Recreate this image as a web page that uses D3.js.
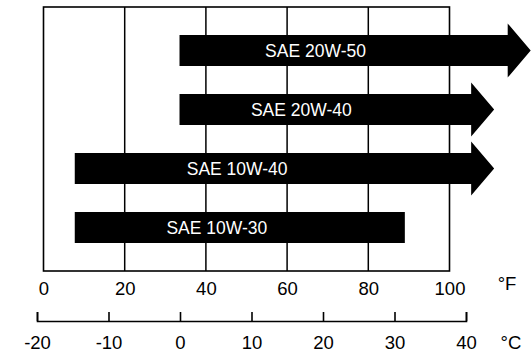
<!DOCTYPE html>
<html>
<head>
<meta charset="utf-8">
<script src="https://cdn.jsdelivr.net/npm/d3@7"></script>
<style>
  body { margin: 0; background: #fff; }
  text { font-family: "Liberation Sans", Arial, sans-serif; }
</style>
</head>
<body>
<svg width="532" height="352"></svg>
<script>
// oil grades and their temperature ranges (deg F)
var grades = ["SAE 20W-50", "SAE 20W-40", "SAE 10W-40", "SAE 10W-30"];
var fromF = [33.5, 33.5, 7.7, 7.7];
var toF = [120, 111, 111, 89];        // arrow tip / bar end
var isArrow = [true, true, true, false];
var labelF = [67, 63.5, 47.7, 42.7];  // where the label sits

var fTicks = [0, 20, 40, 60, 80, 100];
var cTicks = [-20, -10, 0, 10, 20, 30, 40];

var svg = d3.select("svg"),
    yTop = 7, yBot = 271;

var xF = d3.scaleLinear().domain([0, 100]).range([43.5, 449.5]);
var xC = d3.scaleLinear().domain([-20, 40]).range([37, 466]);
var y = d3.scaleBand().domain(grades).range([21, 257]);

var bodyH = 31, headH = 54, headL = 23;
var plain = function(d) { return String(d); }; // keep ascii hyphen

// grid lines
svg.append("g")
  .selectAll("line")
  .data(fTicks.slice(1, -1))
  .enter().append("line")
  .attr("x1", function(d) { return xF(d); })
  .attr("x2", function(d) { return xF(d); })
  .attr("y1", yTop)
  .attr("y2", yBot)
  .attr("stroke", "#000")
  .attr("stroke-width", 1.5);

// frame
svg.append("rect")
  .attr("x", xF(0))
  .attr("y", yTop)
  .attr("width", xF(100) - xF(0))
  .attr("height", yBot - yTop)
  .attr("fill", "none")
  .attr("stroke", "#000")
  .attr("stroke-width", 1.6);

// bars / arrows
var rows = grades.map(function(g, i) {
  return { name: g, x0: fromF[i], x1: toF[i], arrow: isArrow[i], lab: labelF[i] };
});

svg.append("g")
  .selectAll("path")
  .data(rows)
  .enter().append("path")
  .attr("fill", "#000")
  .attr("d", function(d) {
    var cy = y(d.name) + y.bandwidth() / 2,
        a = xF(d.x0), b = xF(d.x1);
    if (!d.arrow) {
      return "M" + a + "," + (cy - bodyH / 2) + "H" + b + "V" + (cy + bodyH / 2) + "H" + a + "Z";
    }
    var h = b - headL;
    return "M" + a + "," + (cy - bodyH / 2) +
      "H" + h + "V" + (cy - headH / 2) +
      "L" + b + "," + cy +
      "L" + h + "," + (cy + headH / 2) +
      "V" + (cy + bodyH / 2) + "H" + a + "Z";
  });

svg.append("g")
  .selectAll("text")
  .data(rows)
  .enter().append("text")
  .attr("x", function(d) { return xF(d.lab); })
  .attr("y", function(d) { return y(d.name) + y.bandwidth() / 2 + 6; })
  .attr("text-anchor", "middle")
  .attr("fill", "#fff")
  .style("font-size", "17.5px")
  .text(function(d) { return d.name; });

// Fahrenheit labels
var axF = svg.append("g")
  .attr("transform", "translate(0," + yBot + ")")
  .call(d3.axisBottom(xF).tickValues(fTicks).tickFormat(plain).tickSize(0).tickPadding(11));
axF.select(".domain").remove();
axF.selectAll("text").style("font-size", "18.5px").attr("fill", "#000");

svg.append("text")
  .attr("x", 507)
  .attr("y", 290)
  .attr("text-anchor", "middle")
  .style("font-size", "18.5px")
  .text("°F");

// Celsius axis
var axC = svg.append("g")
  .attr("transform", "translate(0,321)")
  .call(d3.axisBottom(xC).tickValues(cTicks).tickFormat(plain)
    .tickSizeInner(-9).tickSizeOuter(-9).tickPadding(14.5));
axC.select(".domain").attr("stroke-width", 1.6);
axC.selectAll(".tick line").attr("stroke-width", 1.6);
axC.selectAll("text").style("font-size", "18.5px").attr("fill", "#000");

svg.append("text")
  .attr("x", 511)
  .attr("y", 349)
  .attr("text-anchor", "middle")
  .style("font-size", "18.5px")
  .text("°C");
</script>
</body>
</html>
